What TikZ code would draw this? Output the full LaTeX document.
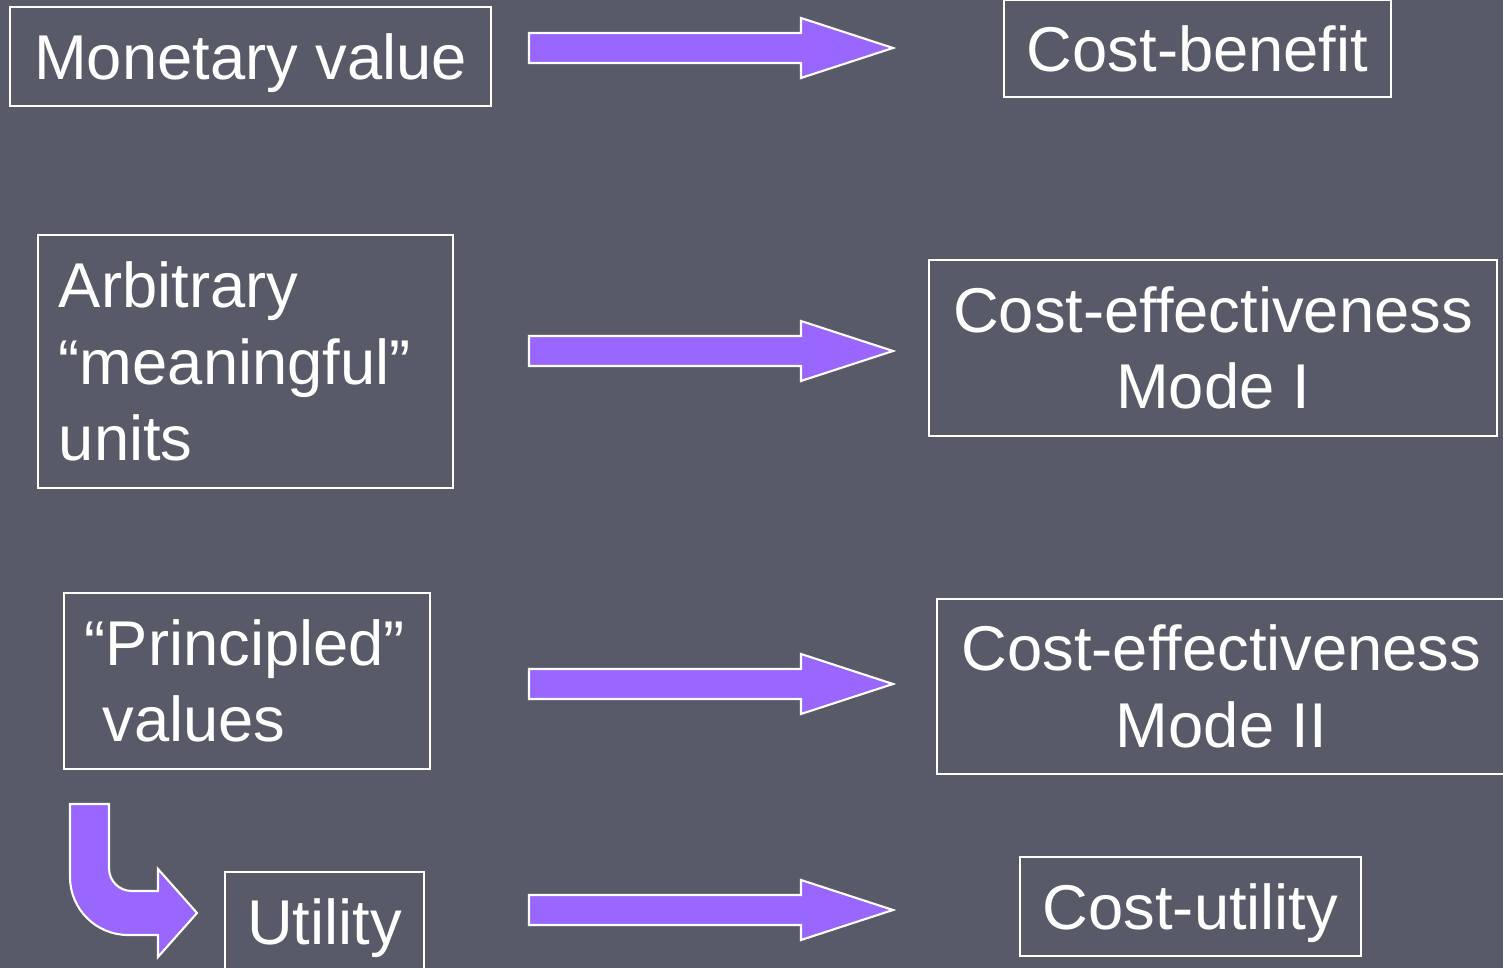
\documentclass[tikz,border=0pt]{standalone}
\usepackage{fontspec}
\setmainfont{Liberation Sans}
\usepackage{xcolor}
\usepackage{tikz}
\usetikzlibrary{calc,positioning}
\definecolor{SlateBg}{HTML}{585A68}
\definecolor{ArrowViolet}{HTML}{9966FF}
\tikzset{
    costbox/.style={draw=white, line width=0.6pt, text=white, align=center,
        font=\fontsize{18pt}{21.8pt}\selectfont, inner sep=0pt},
    onebox/.style={costbox, text depth=0pt},
    leftbox/.style={costbox, align=left, inner xsep=0.21cm},
    fatarrow/.style={fill=ArrowViolet, draw=white, line width=0.6pt, line join=miter}
}
% broad block arrow from #1 to the tip #2 (same height)
\newcommand{\blockarrow}[2]{%
    \draw[fatarrow] ($(#1)+(0,-15)$) -- ($(#2)+(-92,-15)$) -- ($(#2)+(-92,-30)$)
        -- (#2) -- ($(#2)+(-92,30)$) -- ($(#2)+(-92,15)$) -- ($(#1)+(0,15)$) -- cycle;
}

\begin{document}
\begin{tikzpicture}[x=0.01cm, y=-0.01cm]
        \path[use as bounding box, fill=SlateBg] (0,0) rectangle (1503,968);

        % what is valued
        \node[onebox, minimum width=4.81cm, minimum height=0.99cm] (money) at (250.5,56.5) {Monetary value};
        \node[leftbox, text width=3.73cm, minimum height=2.53cm] (units) at (245.5,361.5)
            {Arbitrary\\“meaningful”\\units};
        \node[leftbox, text width=3.24cm, minimum height=1.76cm] (princ) at (247,681)
            {“Principled”\\\hspace*{0.28em}values};
        \node[onebox, minimum width=1.99cm, minimum height=0.99cm] (util) at (324.5,921.5) {Utility};

        % kind of analysis
        \node[onebox, minimum width=3.87cm, minimum height=0.97cm] (cb) at (1197.5,48.5) {Cost-benefit};
        \node[costbox, minimum width=5.68cm, minimum height=1.76cm] (ce1) at (1213,348)
            {Cost-effectiveness\\Mode I};
        \node[costbox, minimum width=5.69cm, minimum height=1.75cm] (ce2) at (1221.5,686.5)
            {Cost-effectiveness\\Mode II};
        \node[onebox, minimum width=3.41cm, minimum height=0.99cm] (cu) at (1190.5,906.5) {Cost-utility};

        % arrow ends
        \coordinate (t1) at (529,48);  \coordinate (h1) at (893,48);
        \coordinate (t2) at (529,351); \coordinate (h2) at (893,351);
        \coordinate (t3) at (529,684); \coordinate (h3) at (893,684);
        \coordinate (t4) at (529,910); \coordinate (h4) at (893,910);

        \blockarrow{t1}{h1}
        \blockarrow{t2}{h2}
        \blockarrow{t3}{h3}
        \blockarrow{t4}{h4}

        % bent arrow from the principled values down to utility
        \draw[fatarrow] (70,804) -- (109,804) -- (109,868)
            .. controls (109,881) and (119,891) .. (132,891) -- (158,891) -- (158,869)
            -- (197,913) -- (158,957) -- (158,935) -- (128,935)
            .. controls (96,935) and (70,909) .. (70,877) -- cycle;
    \end{tikzpicture}
\end{document}
